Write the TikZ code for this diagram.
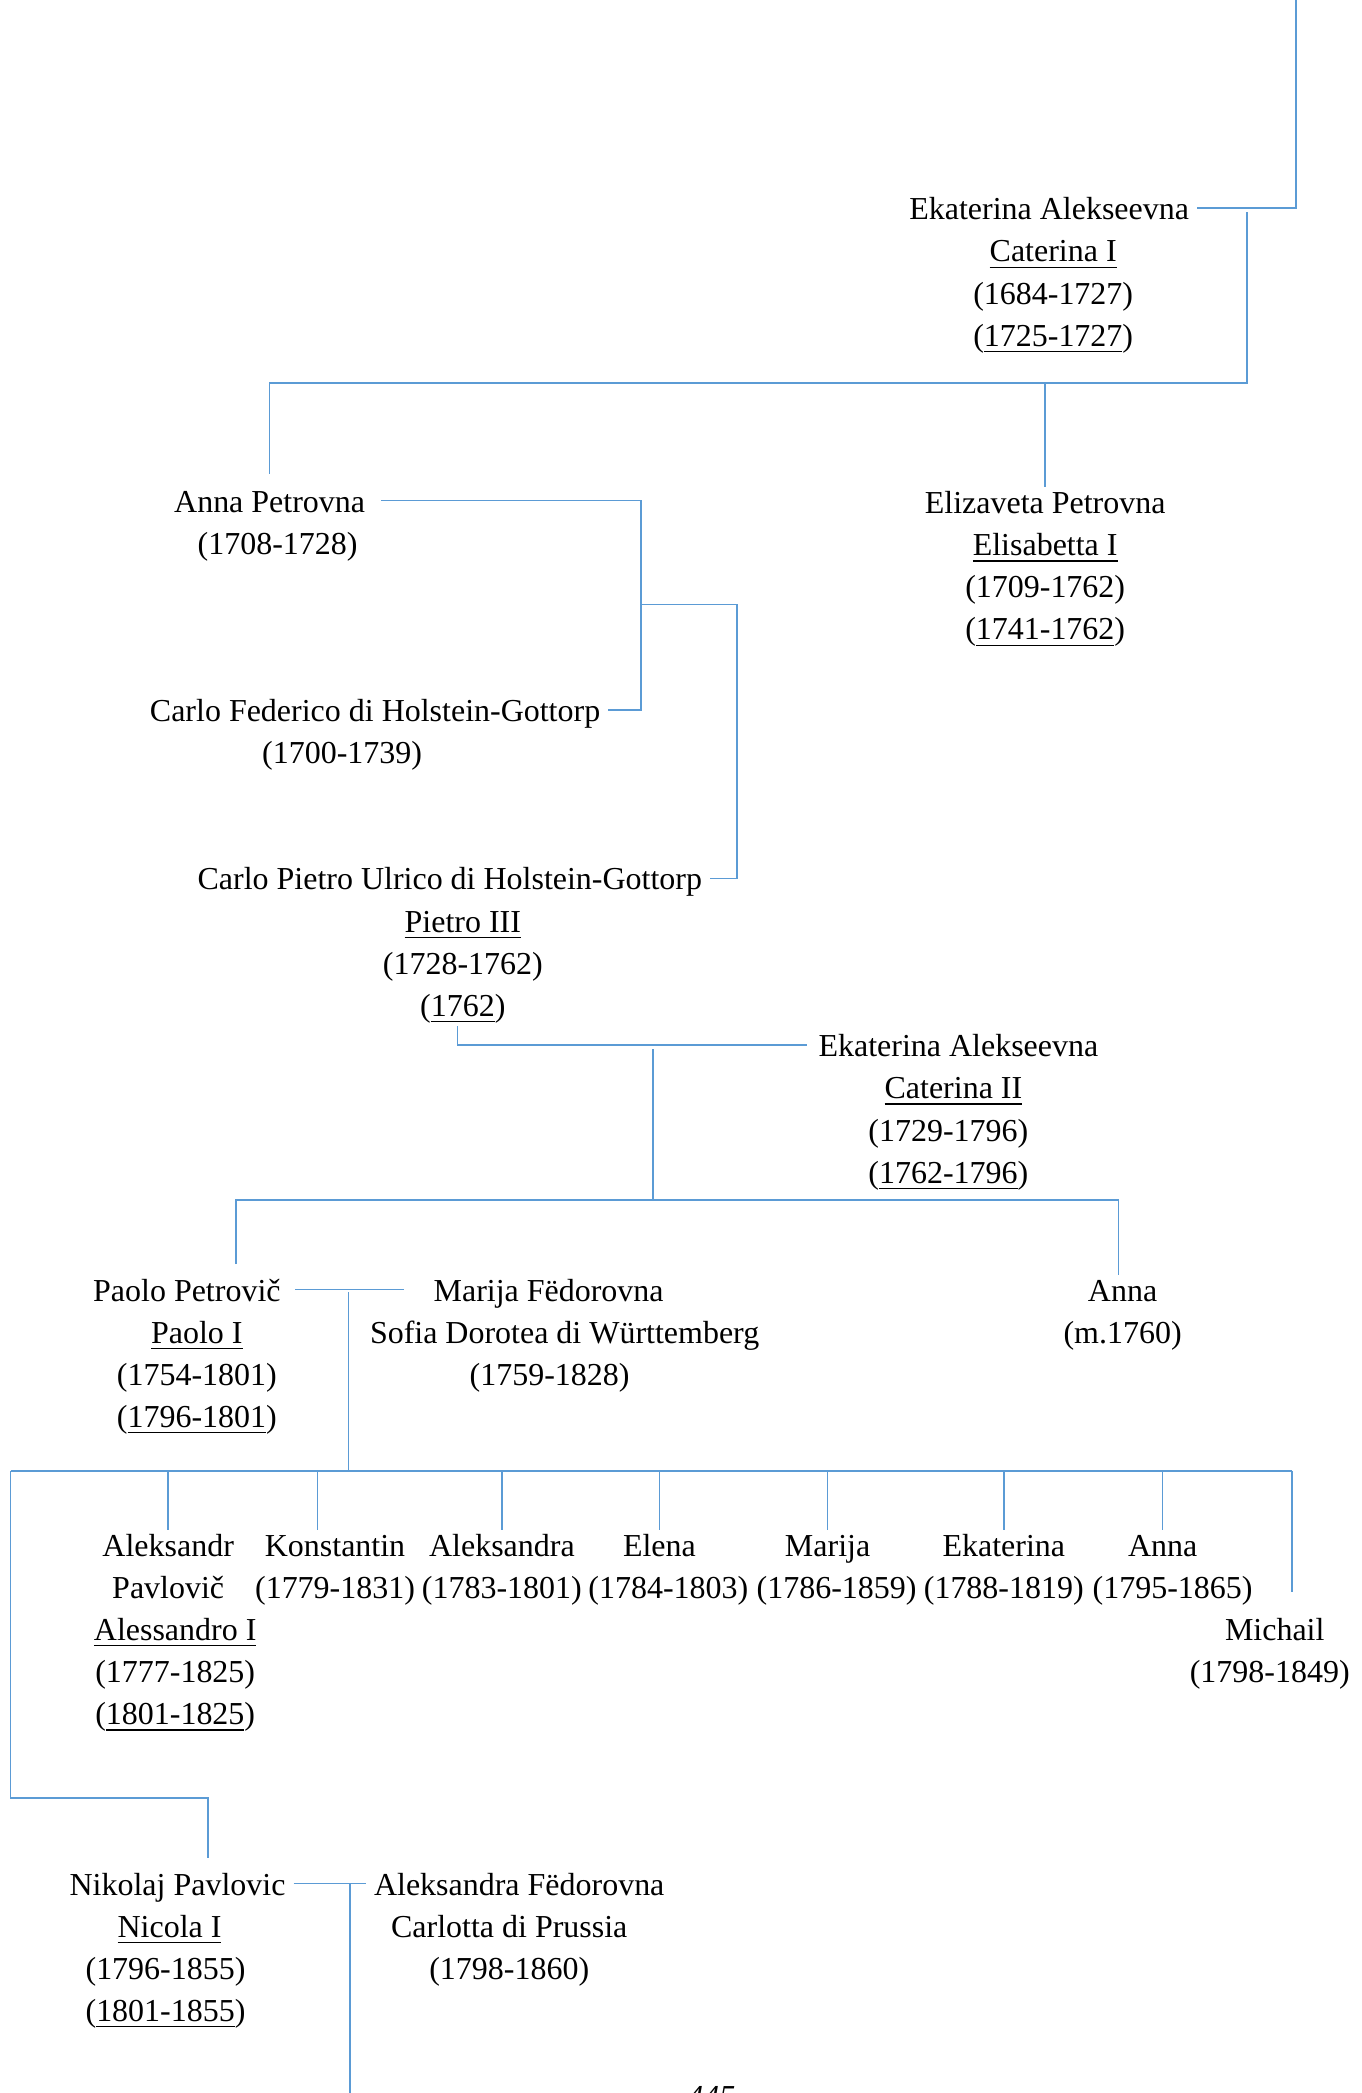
\documentclass[tikz,border=0pt]{standalone}
\usepackage{fontspec}
\setmainfont{Liberation Serif}
\usepackage{tikz}
\usetikzlibrary{positioning,calc}
\definecolor{linkblue}{RGB}{91,155,213}
\tikzset{
    person/.style={
        inner sep=0pt, outer xsep=2.3pt, outer ysep=0pt,
        text height=7.5pt, text depth=0.9pt,
        font=\fontsize{9.1}{11}\selectfont
    },
    link/.style={draw=linkblue, line width=0.45pt},
    folio/.style={inner sep=0pt, anchor=base,
        font=\fontsize{9.1}{11}\selectfont\itshape}
}

\begin{document}
\begin{tikzpicture}[x=0.013353cm, y=-0.013353cm, node distance=3.6pt]
        \useasboundingbox (0,0) rectangle (1020,1568);
        % Caterina I
        \node[person] (ek1) at (786,156) {Ekaterina Alekseevna};
        \node[person, below=of ek1, xshift=0.04cm] (ek1t) {\underline{Caterina I}};
        \node[person, below=of ek1t] (ek1l) {(1684-1727)};
        \node[person, below=of ek1l] (ek1r) {(\underline{1725-1727})};
        % her daughters
        \node[person] (annap) at (202,375) {Anna Petrovna};
        \node[person, below=of annap, xshift=0.08cm] (annapl) {(1708-1728)};
        \node[person] (elz) at (783,376) {Elizaveta Petrovna};
        \node[person, below=of elz] (elzt) {\underline{Elisabetta I}};
        \node[person, below=of elzt] (elzl) {(1709-1762)};
        \node[person, below=of elzl] (elzr) {(\underline{1741-1762})};
        % Holstein-Gottorp
        \node[person] (carlof) at (281,532) {Carlo Federico di Holstein-Gottorp};
        \node[person, below=of carlof, xshift=-0.33cm] (carlofl) {(1700-1739)};
        \node[person] (carlop) at (337,658) {Carlo Pietro Ulrico di Holstein-Gottorp};
        \node[person, below=of carlop, xshift=0.13cm] (carlopt) {\underline{Pietro III}};
        \node[person, below=of carlopt] (carlopl) {(1728-1762)};
        \node[person, below=of carlopl] (carlopr) {(\underline{1762})};
        % Caterina II
        \node[person] (ek2) at (718,783) {Ekaterina Alekseevna};
        \node[person, below=of ek2, xshift=-0.05cm] (ek2t) {\underline{Caterina II}};
        \node[person, below=of ek2t, xshift=-0.05cm] (ek2l) {(1729-1796)};
        \node[person, below=of ek2l] (ek2r) {(\underline{1762-1796})};
        % Paolo I and Anna
        \node[person] (paolo) at (140,966) {Paolo Petrovič};
        \node[person, below=of paolo, xshift=0.1cm] (paolot) {\underline{Paolo I}};
        \node[person, below=of paolot] (paolol) {(1754-1801)};
        \node[person, below=of paolol] (paolor) {(\underline{1796-1801})};
        \node[person] (marija) at (411,966) {Marija Fëdorovna};
        \node[person, below=of marija, xshift=0.16cm] (marijab) {Sofia Dorotea di Württemberg};
        \node[person, below=of marijab, xshift=-0.15cm] (marijal) {(1759-1828)};
        \node[person] (annar) at (841,966) {Anna};
        \node[person, below=of annar] (annarl) {(m.1760)};
        % children of Paolo I
        \node[person] (alex) at (126,1157) {Aleksandr};
        \node[person, below=of alex] (alexp) {Pavlovič};
        \node[person, below=of alexp, xshift=0.07cm] (alext) {\underline{Alessandro I}};
        \node[person, below=of alext] (alexl) {(1777-1825)};
        \node[person, below=of alexl] (alexr) {(\underline{1801-1825})};
        \node[person] (kons) at (251,1157) {Konstantin};
        \node[person, below=of kons] (konsl) {(1779-1831)};
        \node[person] (alra) at (376,1157) {Aleksandra};
        \node[person, below=of alra] (alral) {(1783-1801)};
        \node[person] (elena) at (494,1157) {Elena};
        \node[person, below=of elena, xshift=0.09cm] (elenal) {(1784-1803)};
        \node[person] (mari) at (620,1157) {Marija};
        \node[person, below=of mari, xshift=0.09cm] (maril) {(1786-1859)};
        \node[person] (ekat) at (752,1157) {Ekaterina};
        \node[person, below=of ekat] (ekatl) {(1788-1819)};
        \node[person] (anna) at (871,1157) {Anna};
        \node[person, below=of anna, xshift=0.1cm] (annal) {(1795-1865)};
        \node[person] (mich) at (955,1220) {Michail};
        \node[person, below=of mich, xshift=-0.05cm] (michl) {(1798-1849)};
        % Nicola I
        \node[person] (nik) at (133,1411) {Nikolaj Pavlovic};
        \node[person, below=of nik, xshift=-0.08cm] (nikt) {\underline{Nicola I}};
        \node[person, below=of nikt, xshift=-0.04cm] (nikl) {(1796-1855)};
        \node[person, below=of nikl] (nikr) {(\underline{1801-1855})};
        \node[person] (alf) at (389,1411) {Aleksandra Fëdorovna};
        \node[person, below=of alf, xshift=-0.1cm] (alfb) {Carlotta di Prussia};
        \node[person, below=of alfb] (alfl) {(1798-1860)};
        \node[folio] (folio) at (533,1579) {445};

        % junctions
        \coordinate (top) at (971,0);
        \coordinate (bar1) at (934,287);
        \coordinate (j1) at (480,453);
        \coordinate (j2) at (552,453);
        \coordinate (j3) at (489,786);
        \coordinate (b2l) at (177,899);
        \coordinate (b2r) at (838,899);
        \coordinate (j4) at (261,968);
        \coordinate (b3l) at (8,1102);
        \coordinate (b3r) at (968,1102);
        \coordinate (b4) at (156,1347);
        \coordinate (j5) at (262,1411);
        \coordinate (bottom) at (262,1568);

        \draw[link] (ek1.east) -| (top);
        \draw[link] (ek1.east -| bar1) ++(0,3) -- (bar1) -| ($(annap.north)+(0,-9)$);
        \draw[link] (elz.north |- bar1) -- (elz.north);
        \draw[link] ($(annap.east)+(6,0)$) -| (j1) |- (carlof.east);
        \draw[link] (j1) -- (j2) |- (carlop.east);
        \draw[link] ($(carlopr.south)+(-4,5)$) |- ($(ek2.west)+(-3,0)$);
        \draw[link] (j3) -- (j3 |- b2l);
        \draw[link] ($(b2l |- paolo.north)+(0,-8)$) -- (b2l) -- (b2r) -- (b2r |- annar.north);
        \draw[link] ($(paolo.east)+(5,0)$) -- ($(marija.west)+(-16,0)$);
        \draw[link] (j4) -- (j4 |- b3l);
        \draw[link] (b3l) -- (b3r);
        \foreach \c in {alex, alra, elena, mari, ekat, anna}
            \draw[link] (\c.north |- b3l) -- (\c.north);
        \draw[link] ($(kons.north |- b3l)+(-13,0)$) -- ($(kons.north)+(-13,0)$);
        \draw[link] (b3r) -- ($(b3r |- mich.north)+(0,-16)$);
        \draw[link] (b3l) |- (b4) -- ($(b4 |- nik.north)+(0,-8)$);
        \draw[link] (nik.east) -- (alf.west);
        \draw[link] (j5) -- (bottom);
    \end{tikzpicture}
\end{document}
